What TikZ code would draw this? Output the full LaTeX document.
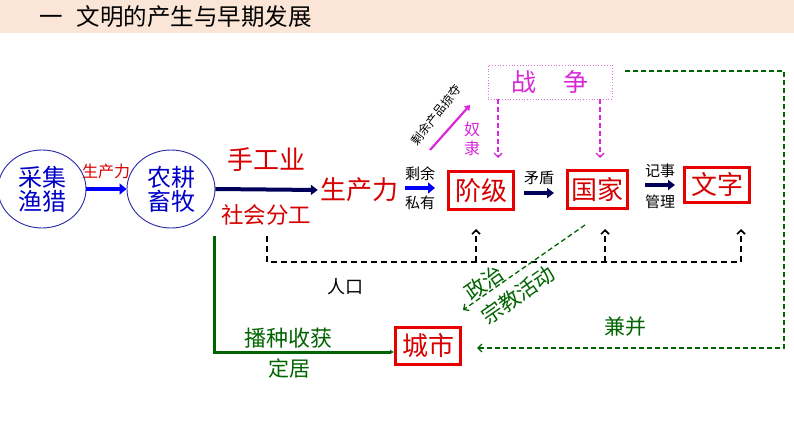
\documentclass[tikz,border=0pt]{standalone}
\usepackage{fontspec}
\setmainfont{Noto Sans CJK SC}
\usetikzlibrary{arrows.meta,shapes.geometric}
\definecolor{peach}{RGB}{251,229,214}
\definecolor{cred}{RGB}{214,0,0}
\definecolor{bred}{RGB}{232,0,0}
\definecolor{cblue}{RGB}{0,0,200}
\definecolor{eblue}{RGB}{40,40,170}
\definecolor{navy}{RGB}{0,0,90}
\definecolor{bblue}{RGB}{0,0,255}
\definecolor{mag}{RGB}{215,40,215}
\definecolor{mag2}{RGB}{225,110,225}
\definecolor{cgreen}{RGB}{0,100,0}
\newcommand\myfs[1]{\fontsize{#1}{#1}\selectfont}
\tikzset{
  oval/.style={draw=eblue, line width=0.9pt, ellipse, minimum width=88, minimum height=78, inner sep=0pt, align=center, text=cblue, font=\myfs{24}},
  redbox/.style={draw=bred, line width=3pt, text=cred, inner sep=0pt, font=\myfs{26}},
  lbl/.style={inner sep=0pt, font=\myfs{15}},
  bluearr/.style={bblue, line width=4.5pt, -{Triangle[length=7pt,width=11pt]}},
  navyarr/.style={navy, line width=4pt, -{Triangle[length=7pt,width=10pt]}},
  bdash/.style={black, line width=1.6pt, dash pattern=on 6pt off 4pt},
  gdash/.style={cgreen, line width=1.3pt, dash pattern=on 5pt off 3pt},
  mdash/.style={mag, line width=1.4pt, dash pattern=on 5pt off 3pt, -{Straight Barb[length=4pt,width=8pt]}},
  barb/.style={-{Straight Barb[length=4pt,width=8pt]}}
}
\begin{document}
\begin{tikzpicture}[x=1pt,y=-1pt]
\useasboundingbox (0,0) rectangle (794,447);
\fill[peach] (0,0) rectangle (794,33);
\node[anchor=west, inner sep=0pt, font=\myfs{23.5}] (title) at (39,17) {一\hspace{0.6em}文明的产生与早期发展};

% ovals
\node[oval] (e1) at (42,189) {采集\\渔猎};
\node[oval] (e2) at (171,189) {农耕\\畜牧};
\draw[bluearr] (e1.east) -- (e2.west);
\node[lbl, text=cred, font=\myfs{16}] (sc1) at (106,171) {生产力};

% main row
\node[inner sep=2pt, text=cred, font=\myfs{26}] (scl) at (359,190) {生产力};
\draw[navyarr] (e2.east) -- (scl.west);
\node[lbl, text=cred, font=\myfs{26}] (sgy) at (266,160) {手工业};
\node[lbl, text=cred, font=\myfs{22.5}] (shfg) at (266,215) {社会分工};

\node[redbox, minimum width=65, minimum height=38] (jj) at (481,190.5) {阶级};
\node[redbox, minimum width=60, minimum height=38] (gj) at (597.5,189.5) {国家};
\node[redbox, minimum width=65, minimum height=35] (wz) at (717,185) {文字};
\node[redbox, minimum width=65, minimum height=37] (cs) at (428,346) {城市};

\draw[bluearr, shorten <=5pt, shorten >=12pt] (scl.east |- 0,188) -- (jj.west |- 0,188);
\node[lbl] (sy) at (420,174) {剩余};
\node[lbl] (sy2) at (420,203) {私有};

\draw[navyarr, shorten <=9pt, shorten >=12pt] (jj.east |- 0,193) -- (gj.west |- 0,193);
\node[lbl] (md) at (539,178) {矛盾};

\draw[navyarr, shorten <=16pt, shorten >=8pt] (gj.east |- wz.west) -- (wz.west);
\node[lbl] (js) at (660,171) {记事};
\node[lbl] (gl) at (660,202) {管理};

% war
\node[draw=mag2, line width=0.8pt, dotted, minimum width=124, minimum height=34, inner sep=0pt, text=mag, font=\myfs{25}] (zz) at (550,82) {战\hspace{1.1em}争};
\coordinate (m1) at (498,158);
\coordinate (m2) at (600,158);
\draw[mdash] (zz.south -| m1) -- (m1);
\draw[mdash] (zz.south -| m2) -- (m2);

\coordinate (p1) at (430,150);
\coordinate (p2) at (470,105);
\draw[mag, line width=2.2pt, -{Triangle[length=5pt,width=7pt]}] (p1) -- (p2);
\node[lbl, rotate=52, font=\myfs{12}] (lf) at (436,115) {剩余产品掠夺};
\node[lbl, text=mag, align=center, font=\myfs{16}] (nl) at (472,139) {奴\\[3pt]隶};

% black dashed
\coordinate (dl) at (267,262);
\coordinate (dr) at (741,262);
\coordinate (a1) at (476,262);
\coordinate (a2) at (605,262);
\draw[bdash] (267,236) -- (dl) -- (dr);
\draw[bdash, barb] (a1) -- ++(0,-33);
\draw[bdash, barb] (a2) -- ++(0,-33);
\draw[bdash, barb] (dr) -- ++(0,-33);
\node[lbl, font=\myfs{18}] (rk) at (345,287) {人口};

% green solid
\coordinate (g1) at (214,236);
\coordinate (g2) at (214,352);
\draw[cgreen, line width=3pt, -{Latex[length=4pt,width=5pt]}] (g1) -- (g2) -- (cs.west |- g2);
\node[lbl, text=cgreen, font=\myfs{22}] (bz) at (288,338) {播种收获};
\node[lbl, text=cgreen, font=\myfs{21}] (dj) at (289,368) {定居};

% green dashed diagonal
\coordinate (q1) at (585,225);
\coordinate (q2) at (463,310);
\draw[gdash, barb] (q1) -- (q2);
\node[lbl, rotate=35, text=cgreen, font=\myfs{21}] (zzl) at (484,283) {政治};
\node[lbl, rotate=35, text=cgreen, font=\myfs{21}] (zj) at (518,295) {宗教活动};

% green dashed loop
\coordinate (r1) at (625,71);
\coordinate (r2) at (784,71);
\coordinate (r3) at (784,348);
\draw[gdash, barb, shorten >=15pt] (r1) -- (r2) -- (r3) -- (cs.east |- r3);
\node[lbl, text=cgreen, font=\myfs{21}] (jb) at (625,327) {兼并};
\end{tikzpicture}
\end{document}
